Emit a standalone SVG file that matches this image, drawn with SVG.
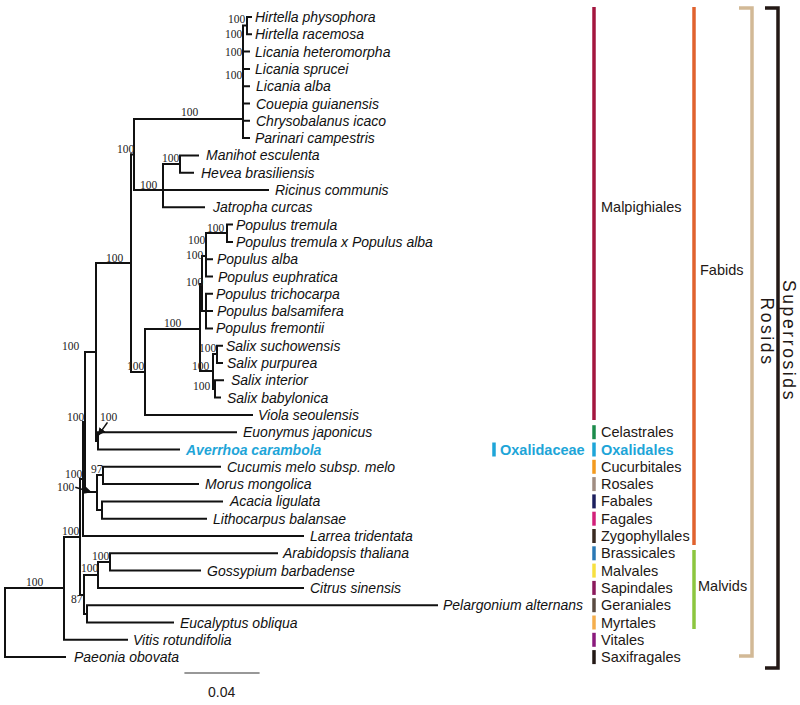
<svg xmlns="http://www.w3.org/2000/svg" width="800" height="705" viewBox="0 0 800 705">
<style>
.br{stroke:#111;stroke-width:2;fill:none;stroke-linecap:square}
.lf{font-family:"Liberation Sans",Arial,sans-serif;font-style:italic;font-size:14px;fill:#111}
.bs{font-family:"Liberation Serif","Times New Roman",serif;font-size:11.5px;fill:#222}
.cl{font-family:"Liberation Sans",Arial,sans-serif;font-size:14.5px;fill:#231815}
.big{font-size:17.5px;letter-spacing:2.6px}
.hl{fill:#1ea5d8;font-weight:bold}
.bar{stroke-width:3.5;fill:none}
</style>
<defs>
<marker id="ah" viewBox="0 0 10 10" refX="9" refY="5" markerWidth="5" markerHeight="5" orient="auto"><path d="M0,0 L10,5 L0,10 z" fill="#111"/></marker>
</defs>
<rect width="800" height="705" fill="#fff"/>
<g id="connectors" class="br">
<path d="M5,588 V657.1 H65 M5,588 H64"/>
<path d="M64,537 V639.8 H127 M64,537 H80"/>
<path d="M80,479 V595 H84"/>
<path d="M84,575 V614 H87"/>
<path d="M84,575 H98 M98,562 V587.9 H303"/>
<path d="M98,562 H110 M110,553.3 V570.6 H200 M110,553.3 H277"/>
<path d="M87,605.2 V622.5 H173 M87,605.2 H437"/>
<path d="M80,479 H83 M83,422 V536 H303"/>
<path d="M83,422 H85 M85,352 V492 H97"/>
<path d="M97,475 V510 H102 M97,475 H103"/>
<path d="M103,466.8 V484.1 H198 M103,466.8 H220"/>
<path d="M102,501.4 V518.7 H206 M102,501.4 H222"/>
<path d="M85,352 H96 M96,263 V441 H98"/>
<path d="M98,432.2 V449.5 H179 M98,432.2 H236"/>
<path d="M96,263 H131 M131,154.5 V372 H145"/>
<path d="M131,154.5 H134 M134,119 V190 H268"/>
<path d="M134,119 H243"/>
<path d="M163,164 V207.3 H204 M163,164 H180"/>
<path d="M180,155.4 V172.7 H193 M180,155.4 H198"/>
<path d="M243,25.6 V138.1 H249 M243,25.6 H247 M247,17 V34.3 H251 M247,17 H251"/>
<path d="M243,51.6 H249 M243,68.9 H249 M243,86.2 H249 M243,103.5 H249 M243,120.8 H249"/>
<path d="M145,329 V414.9 H252 M145,329 H200"/>
<path d="M200,284 V371 H213 M200,284 H202"/>
<path d="M202,256 V311.1 H206"/>
<path d="M202,256 H206 M206,233 V276.5 H212 M206,259.2 H212 M206,233 H227"/>
<path d="M227,224.6 V241.9 H232 M227,224.6 H232"/>
<path d="M206,293.8 V328.4 H212 M206,293.8 H212 M206,311.1 H212"/>
<path d="M213,354 V389 H215 M213,354 H217"/>
<path d="M217,345.7 V363 H222 M217,345.7 H222"/>
<path d="M215,380.3 V397.6 H220 M215,380.3 H223"/>
<path d="M185,673 H259" style="stroke-width:1.2;stroke:#333"/>
<path d="M107,423 L98.5,435" style="stroke-width:1.5" marker-end="url(#ah)"/>
<path d="M76,487.5 L91,492" style="stroke-width:1.5" marker-end="url(#ah)"/>
</g>
<g id="support" class="bs">
<text x="228" y="23">100</text>
<text x="225" y="38">100</text>
<text x="225" y="56">100</text>
<text x="225" y="79">100</text>
<text x="181" y="116">100</text>
<text x="117" y="153">100</text>
<text x="162" y="162">100</text>
<text x="140" y="189">100</text>
<text x="106" y="262">100</text>
<text x="207" y="232">100</text>
<text x="188" y="244">100</text>
<text x="186" y="259">100</text>
<text x="186" y="286">100</text>
<text x="164" y="327">100</text>
<text x="127" y="370">100</text>
<text x="199" y="352">100</text>
<text x="192" y="370">100</text>
<text x="193" y="390">100</text>
<text x="62" y="350">100</text>
<text x="100" y="421">100</text>
<text x="67" y="421">100</text>
<text x="65" y="478">100</text>
<text x="57" y="491">100</text>
<text x="91" y="473">97</text>
<text x="62" y="535">100</text>
<text x="92" y="560">100</text>
<text x="81" y="572">100</text>
<text x="71" y="603">87</text>
<text x="26" y="586">100</text>
</g>
<g id="leaves" class="lf">
<g id="n-hirtella-physophora"><text x="255" y="22">Hirtella physophora</text></g>
<g id="n-hirtella-racemosa"><text x="255" y="39.3">Hirtella racemosa</text></g>
<g id="n-licania-heteromorpha"><text x="255" y="56.6">Licania heteromorpha</text></g>
<g id="n-licania-sprucei"><text x="255" y="73.9">Licania sprucei</text></g>
<g id="n-licania-alba"><text x="256" y="91.2">Licania alba</text></g>
<g id="n-couepia"><text x="256" y="108.5">Couepia guianensis</text></g>
<g id="n-chrysobalanus"><text x="256" y="125.8">Chrysobalanus icaco</text></g>
<g id="n-parinari"><text x="255" y="143.1">Parinari campestris</text></g>
<g id="n-manihot"><text x="206" y="160.4">Manihot esculenta</text></g>
<g id="n-hevea"><text x="201" y="177.7">Hevea brasiliensis</text></g>
<g id="n-ricinus"><text x="275" y="195">Ricinus communis</text></g>
<g id="n-jatropha"><text x="213" y="212.3">Jatropha curcas</text></g>
<g id="n-populus-tremula"><text x="236" y="229.6">Populus tremula</text></g>
<g id="n-populus-tremula-alba"><text x="236" y="246.9">Populus tremula x Populus alba</text></g>
<g id="n-populus-alba"><text x="217" y="264.2">Populus alba</text></g>
<g id="n-populus-euphratica"><text x="218" y="281.5">Populus euphratica</text></g>
<g id="n-populus-trichocarpa"><text x="216" y="298.8">Populus trichocarpa</text></g>
<g id="n-populus-balsamifera"><text x="217" y="316.1">Populus balsamifera</text></g>
<g id="n-populus-fremontii"><text x="216" y="333.4">Populus fremontii</text></g>
<g id="n-salix-suchowensis"><text x="226" y="350.7">Salix suchowensis</text></g>
<g id="n-salix-purpurea"><text x="227" y="368">Salix purpurea</text></g>
<g id="n-salix-interior"><text x="231" y="385.3">Salix interior</text></g>
<g id="n-salix-babylonica"><text x="227" y="402.6">Salix babylonica</text></g>
<g id="n-viola"><text x="258" y="419.9">Viola seoulensis</text></g>
<g id="n-euonymus"><text x="243" y="437.2">Euonymus japonicus</text></g>
<g id="n-averrhoa"><text x="186" y="454.5" class="hl">Averrhoa carambola</text></g>
<g id="n-cucumis"><text x="227" y="471.8">Cucumis melo subsp. melo</text></g>
<g id="n-morus"><text x="205" y="489.1">Morus mongolica</text></g>
<g id="n-acacia"><text x="230" y="506.4">Acacia ligulata</text></g>
<g id="n-lithocarpus"><text x="213" y="523.7">Lithocarpus balansae</text></g>
<g id="n-larrea"><text x="310" y="541">Larrea tridentata</text></g>
<g id="n-arabidopsis"><text x="283" y="558.3">Arabidopsis thaliana</text></g>
<g id="n-gossypium"><text x="207" y="575.6">Gossypium barbadense</text></g>
<g id="n-citrus"><text x="310" y="592.9">Citrus sinensis</text></g>
<g id="n-pelargonium"><text x="443" y="610.2">Pelargonium alternans</text></g>
<g id="n-eucalyptus"><text x="180" y="627.5">Eucalyptus obliqua</text></g>
<g id="n-vitis"><text x="133" y="644.8">Vitis rotundifolia</text></g>
<g id="n-paeonia"><text x="74" y="662.1">Paeonia obovata</text></g>
</g>
<g id="scale"><text x="208" y="697" class="cl" style="font-size:14px">0.04</text></g>
<g id="orders" class="cl">
<g id="o-malpighiales"><path class="bar" stroke="#a3163f" d="M594,7 V420"/><text x="601" y="212">Malpighiales</text></g>
<g id="o-celastrales"><path class="bar" stroke="#1b8b4b" d="M594,425.2 V439.2"/><text x="601" y="437.2">Celastrales</text></g>
<g id="o-oxalidales"><path class="bar" stroke="#1ea5d8" d="M594,442.5 V456.5"/><text x="601" y="454.5" class="hl">Oxalidales</text></g>
<g id="o-cucurbitales"><path class="bar" stroke="#f39a1e" d="M594,459.8 V473.8"/><text x="601" y="471.8">Cucurbitales</text></g>
<g id="o-rosales"><path class="bar" stroke="#a08d82" d="M594,477.1 V491.1"/><text x="601" y="489.1">Rosales</text></g>
<g id="o-fabales"><path class="bar" stroke="#1c1f5e" d="M594,494.4 V508.4"/><text x="601" y="506.4">Fabales</text></g>
<g id="o-fagales"><path class="bar" stroke="#d2207a" d="M594,511.7 V525.7"/><text x="601" y="523.7">Fagales</text></g>
<g id="o-zygophyllales"><path class="bar" stroke="#3a2a22" d="M594,529 V543"/><text x="601" y="541">Zygophyllales</text></g>
<g id="o-brassicales"><path class="bar" stroke="#2a78b5" d="M594,546.3 V560.3"/><text x="601" y="558.3">Brassicales</text></g>
<g id="o-malvales"><path class="bar" stroke="#f7e040" d="M594,563.6 V577.6"/><text x="601" y="575.6">Malvales</text></g>
<g id="o-sapindales"><path class="bar" stroke="#8b1a5c" d="M594,580.9 V594.9"/><text x="601" y="592.9">Sapindales</text></g>
<g id="o-geraniales"><path class="bar" stroke="#5a4b42" d="M594,598.2 V612.2"/><text x="601" y="610.2">Geraniales</text></g>
<g id="o-myrtales"><path class="bar" stroke="#f5ae4c" d="M594,615.5 V629.5"/><text x="601" y="627.5">Myrtales</text></g>
<g id="o-vitales"><path class="bar" stroke="#8a1a7c" d="M594,632.8 V646.8"/><text x="601" y="644.8">Vitales</text></g>
<g id="o-saxifragales"><path class="bar" stroke="#231815" d="M594,650.1 V664.1"/><text x="601" y="662.1">Saxifragales</text></g>
</g>
<g id="family-oxalidaceae" class="cl"><path class="bar" stroke="#1ea5d8" d="M494,442.5 V456.5"/><text x="500" y="454.5" class="hl">Oxalidaceae</text></g>
<g id="clade-fabids" class="cl"><path class="bar" stroke="#e0622e" d="M694,7 V545"/><text x="700" y="275">Fabids</text></g>
<g id="clade-malvids" class="cl"><path class="bar" stroke="#8cc63f" d="M694,550 V629"/><text x="698" y="591">Malvids</text></g>
<g id="clade-rosids" class="cl"><path class="bar" stroke="#d2b996" d="M739,8 H752 V656 H739"/><text class="big" transform="translate(761,332) rotate(90)" text-anchor="middle">Rosids</text></g>
<g id="clade-superrosids" class="cl"><path class="bar" stroke="#231815" d="M765,8 H778 V668 H765"/><text class="big" transform="translate(783,341) rotate(90)" text-anchor="middle">Superrosids</text></g>
</svg>
